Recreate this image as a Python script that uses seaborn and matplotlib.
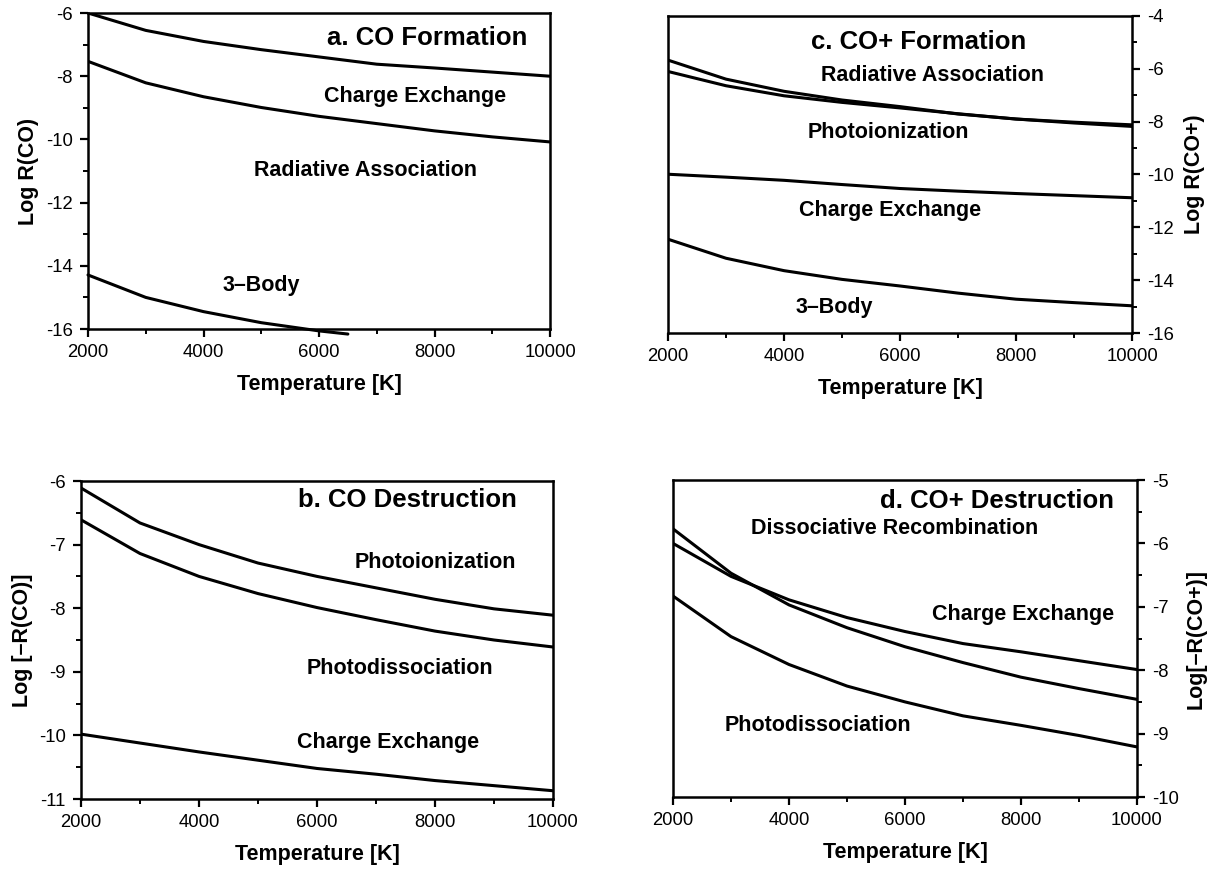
import numpy as np
import pandas as pd
import seaborn as sns
import matplotlib.pyplot as plt
from matplotlib.ticker import MultipleLocator

# temperatures used for all curves
temps = [2000, 3000, 4000, 5000, 6000, 7000, 8000, 9000, 10000]
temps_3body_a = [2000, 3000, 4000, 5000, 6000, 6500]

# a. CO formation
a_charge = [-6.0, -6.55, -6.9, -7.16, -7.39, -7.62, -7.74, -7.87, -8.0]
a_radiative = [-7.53, -8.21, -8.65, -8.99, -9.27, -9.5, -9.73, -9.92, -10.08]
a_3body = [-14.29, -15.0, -15.45, -15.8, -16.06, -16.16]

# b. CO destruction
b_photoion = [-6.11, -6.66, -7.0, -7.29, -7.5, -7.68, -7.86, -8.01, -8.11]
b_photodiss = [-6.61, -7.14, -7.5, -7.77, -7.99, -8.18, -8.36, -8.5, -8.61]
b_charge = [-9.98, -10.12, -10.26, -10.39, -10.52, -10.61, -10.71, -10.79, -10.87]

# c. CO+ formation
c_radiative = [-5.67, -6.39, -6.85, -7.18, -7.43, -7.71, -7.9, -8.02, -8.12]
c_photoion = [-6.1, -6.64, -7.02, -7.27, -7.48, -7.7, -7.9, -8.05, -8.18]
c_charge = [-9.99, -10.1, -10.22, -10.38, -10.53, -10.63, -10.72, -10.8, -10.88]
c_3body = [-12.45, -13.17, -13.64, -13.97, -14.22, -14.49, -14.72, -14.85, -14.97]

# d. CO+ destruction
d_dissrec = [-5.77, -6.47, -6.97, -7.33, -7.63, -7.88, -8.11, -8.29, -8.46]
d_charge = [-6.0, -6.52, -6.89, -7.17, -7.39, -7.58, -7.71, -7.85, -7.99]
d_photodiss = [-6.83, -7.47, -7.91, -8.25, -8.5, -8.72, -8.87, -9.03, -9.21]

x_ticks = [2000, 4000, 6000, 8000, 10000]
x_ticklabels = ['2000', '4000', '6000', '8000', '10000']
a_yticks = [-16, -14, -12, -10, -8, -6]
b_yticks = [-11, -10, -9, -8, -7, -6]
c_yticks = [-16, -14, -12, -10, -8, -6, -4]
d_yticks = [-10, -9, -8, -7, -6, -5]

sns.set_theme(style='ticks')
plt.rcParams['font.family'] = ['Liberation Sans', 'DejaVu Sans']
plt.rcParams['axes.unicode_minus'] = False

fig = plt.figure(figsize=(12.11, 8.72), dpi=100)
W, H = 1211, 872


def make_ax(x0, y0, x1, y1):
    # pixel box -> figure fraction
    return fig.add_axes([x0 / W, 1 - y1 / H, (x1 - x0) / W, (y1 - y0) / H])


def style_ax(ax, yticks, ylim, yminor, ylabel, right=False, ypad=8):
    ax.set_xlim(2000, 10000)
    ax.set_ylim(*ylim)
    ax.set_xticks(x_ticks)
    ax.set_xticklabels(x_ticklabels)
    ax.set_yticks(yticks)
    ax.set_yticklabels([str(t) for t in yticks])
    ax.xaxis.set_minor_locator(MultipleLocator(1000))
    ax.yaxis.set_minor_locator(MultipleLocator(yminor))
    for s in ax.spines.values():
        s.set_visible(True)
        s.set_linewidth(1.8)
        s.set_color('black')
    ax.tick_params(which='major', direction='out', length=6, width=1.6,
                   labelsize=13.3, colors='black', pad=5)
    ax.tick_params(which='minor', direction='out', length=3.5, width=1.4, colors='black')
    if right:
        ax.yaxis.tick_right()
        ax.yaxis.set_label_position('right')
    ax.set_xlabel('Temperature [K]', fontsize=15.5, fontweight='bold',
                  labelpad=9, color='black')
    ax.set_ylabel(ylabel, fontsize=15.5, fontweight='bold',
                  labelpad=ypad, color='black')
    ax.set_facecolor('white')


def curve(ax, x, y, clip=True):
    sns.lineplot(x=x, y=y, ax=ax, color='black', linewidth=2.2, clip_on=clip)


def label(ax, x, y, s, size=15.5, ha='center'):
    ax.text(x, y, s, transform=ax.transAxes, fontsize=size, fontweight='bold',
            ha=ha, va='center', color='black')


# panel a
ax_a = make_ax(88, 13, 550, 329)
curve(ax_a, temps, a_charge)
curve(ax_a, temps, a_radiative)
curve(ax_a, temps_3body_a, a_3body, clip=False)
style_ax(ax_a, a_yticks, (-16, -6), 1, 'Log R(CO)', ypad=5)
label(ax_a, 0.95, 0.922, 'a. CO Formation', size=18.5, ha='right')
label(ax_a, 0.707, 0.737, 'Charge Exchange')
label(ax_a, 0.60, 0.50, 'Radiative Association')
label(ax_a, 0.376, 0.139, '3\u2013Body')

# panel c
ax_c = make_ax(668, 16, 1132, 333)
curve(ax_c, temps, c_radiative)
curve(ax_c, temps, c_photoion)
curve(ax_c, temps, c_charge)
curve(ax_c, temps, c_3body)
style_ax(ax_c, c_yticks, (-16, -4), 1, 'Log R(CO+)', right=True, ypad=7)
label(ax_c, 0.541, 0.919, 'c. CO+ Formation', size=18.5)
label(ax_c, 0.571, 0.812, 'Radiative Association')
label(ax_c, 0.474, 0.631, 'Photoionization')
label(ax_c, 0.478, 0.385, 'Charge Exchange')
label(ax_c, 0.359, 0.079, '3\u2013Body')

# panel b
ax_b = make_ax(81, 481, 553, 799)
curve(ax_b, temps, b_photoion)
curve(ax_b, temps, b_photodiss)
curve(ax_b, temps, b_charge)
style_ax(ax_b, b_yticks, (-11, -6), 0.5, 'Log [\u2013R(CO)]', ypad=4)
label(ax_b, 0.923, 0.939, 'b. CO Destruction', size=18.5, ha='right')
label(ax_b, 0.751, 0.745, 'Photoionization')
label(ax_b, 0.676, 0.409, 'Photodissociation')
label(ax_b, 0.65, 0.178, 'Charge Exchange')

# panel d
ax_d = make_ax(673, 480, 1137, 797)
curve(ax_d, temps, d_dissrec)
curve(ax_d, temps, d_charge)
curve(ax_d, temps, d_photodiss)
style_ax(ax_d, d_yticks, (-10, -5), 0.5, 'Log[\u2013R(CO+)]', right=True, ypad=5)
label(ax_d, 0.95, 0.934, 'd. CO+ Destruction', size=18.5, ha='right')
label(ax_d, 0.477, 0.847, 'Dissociative Recombination')
label(ax_d, 0.755, 0.576, 'Charge Exchange')
label(ax_d, 0.313, 0.226, 'Photodissociation')

fig.savefig('out.png', dpi=100, facecolor='white')
